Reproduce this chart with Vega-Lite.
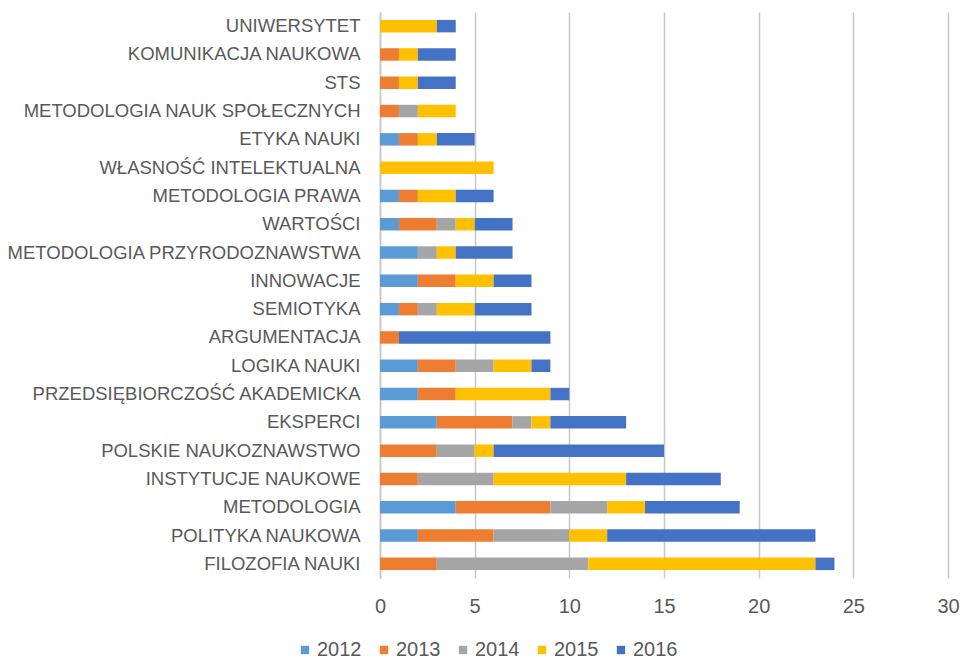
{
  "$schema": "https://vega.github.io/schema/vega-lite/v6.json",
  "width": 568,
  "height": 566,
  "autosize": {"type": "none"},
  "padding": {"left": 380, "top": 12, "right": 16, "bottom": 85},
  "background": "white",
  "config": {"view": {"stroke": null}, "font": "Liberation Sans"},
  "data": {
    "values": [
      {"topic": "UNIWERSYTET", "year": "2015", "value": 3},
      {"topic": "UNIWERSYTET", "year": "2016", "value": 1},
      {"topic": "KOMUNIKACJA NAUKOWA", "year": "2013", "value": 1},
      {"topic": "KOMUNIKACJA NAUKOWA", "year": "2015", "value": 1},
      {"topic": "KOMUNIKACJA NAUKOWA", "year": "2016", "value": 2},
      {"topic": "STS", "year": "2013", "value": 1},
      {"topic": "STS", "year": "2015", "value": 1},
      {"topic": "STS", "year": "2016", "value": 2},
      {"topic": "METODOLOGIA NAUK SPOŁECZNYCH", "year": "2013", "value": 1},
      {"topic": "METODOLOGIA NAUK SPOŁECZNYCH", "year": "2014", "value": 1},
      {"topic": "METODOLOGIA NAUK SPOŁECZNYCH", "year": "2015", "value": 2},
      {"topic": "ETYKA NAUKI", "year": "2012", "value": 1},
      {"topic": "ETYKA NAUKI", "year": "2013", "value": 1},
      {"topic": "ETYKA NAUKI", "year": "2015", "value": 1},
      {"topic": "ETYKA NAUKI", "year": "2016", "value": 2},
      {"topic": "WŁASNOŚĆ INTELEKTUALNA", "year": "2015", "value": 6},
      {"topic": "METODOLOGIA PRAWA", "year": "2012", "value": 1},
      {"topic": "METODOLOGIA PRAWA", "year": "2013", "value": 1},
      {"topic": "METODOLOGIA PRAWA", "year": "2015", "value": 2},
      {"topic": "METODOLOGIA PRAWA", "year": "2016", "value": 2},
      {"topic": "WARTOŚCI", "year": "2012", "value": 1},
      {"topic": "WARTOŚCI", "year": "2013", "value": 2},
      {"topic": "WARTOŚCI", "year": "2014", "value": 1},
      {"topic": "WARTOŚCI", "year": "2015", "value": 1},
      {"topic": "WARTOŚCI", "year": "2016", "value": 2},
      {"topic": "METODOLOGIA PRZYRODOZNAWSTWA", "year": "2012", "value": 2},
      {"topic": "METODOLOGIA PRZYRODOZNAWSTWA", "year": "2014", "value": 1},
      {"topic": "METODOLOGIA PRZYRODOZNAWSTWA", "year": "2015", "value": 1},
      {"topic": "METODOLOGIA PRZYRODOZNAWSTWA", "year": "2016", "value": 3},
      {"topic": "INNOWACJE", "year": "2012", "value": 2},
      {"topic": "INNOWACJE", "year": "2013", "value": 2},
      {"topic": "INNOWACJE", "year": "2015", "value": 2},
      {"topic": "INNOWACJE", "year": "2016", "value": 2},
      {"topic": "SEMIOTYKA", "year": "2012", "value": 1},
      {"topic": "SEMIOTYKA", "year": "2013", "value": 1},
      {"topic": "SEMIOTYKA", "year": "2014", "value": 1},
      {"topic": "SEMIOTYKA", "year": "2015", "value": 2},
      {"topic": "SEMIOTYKA", "year": "2016", "value": 3},
      {"topic": "ARGUMENTACJA", "year": "2013", "value": 1},
      {"topic": "ARGUMENTACJA", "year": "2016", "value": 8},
      {"topic": "LOGIKA NAUKI", "year": "2012", "value": 2},
      {"topic": "LOGIKA NAUKI", "year": "2013", "value": 2},
      {"topic": "LOGIKA NAUKI", "year": "2014", "value": 2},
      {"topic": "LOGIKA NAUKI", "year": "2015", "value": 2},
      {"topic": "LOGIKA NAUKI", "year": "2016", "value": 1},
      {"topic": "PRZEDSIĘBIORCZOŚĆ AKADEMICKA", "year": "2012", "value": 2},
      {"topic": "PRZEDSIĘBIORCZOŚĆ AKADEMICKA", "year": "2013", "value": 2},
      {"topic": "PRZEDSIĘBIORCZOŚĆ AKADEMICKA", "year": "2015", "value": 5},
      {"topic": "PRZEDSIĘBIORCZOŚĆ AKADEMICKA", "year": "2016", "value": 1},
      {"topic": "EKSPERCI", "year": "2012", "value": 3},
      {"topic": "EKSPERCI", "year": "2013", "value": 4},
      {"topic": "EKSPERCI", "year": "2014", "value": 1},
      {"topic": "EKSPERCI", "year": "2015", "value": 1},
      {"topic": "EKSPERCI", "year": "2016", "value": 4},
      {"topic": "POLSKIE NAUKOZNAWSTWO", "year": "2013", "value": 3},
      {"topic": "POLSKIE NAUKOZNAWSTWO", "year": "2014", "value": 2},
      {"topic": "POLSKIE NAUKOZNAWSTWO", "year": "2015", "value": 1},
      {"topic": "POLSKIE NAUKOZNAWSTWO", "year": "2016", "value": 9},
      {"topic": "INSTYTUCJE NAUKOWE", "year": "2013", "value": 2},
      {"topic": "INSTYTUCJE NAUKOWE", "year": "2014", "value": 4},
      {"topic": "INSTYTUCJE NAUKOWE", "year": "2015", "value": 7},
      {"topic": "INSTYTUCJE NAUKOWE", "year": "2016", "value": 5},
      {"topic": "METODOLOGIA", "year": "2012", "value": 4},
      {"topic": "METODOLOGIA", "year": "2013", "value": 5},
      {"topic": "METODOLOGIA", "year": "2014", "value": 3},
      {"topic": "METODOLOGIA", "year": "2015", "value": 2},
      {"topic": "METODOLOGIA", "year": "2016", "value": 5},
      {"topic": "POLITYKA NAUKOWA", "year": "2012", "value": 2},
      {"topic": "POLITYKA NAUKOWA", "year": "2013", "value": 4},
      {"topic": "POLITYKA NAUKOWA", "year": "2014", "value": 4},
      {"topic": "POLITYKA NAUKOWA", "year": "2015", "value": 2},
      {"topic": "POLITYKA NAUKOWA", "year": "2016", "value": 11},
      {"topic": "FILOZOFIA NAUKI", "year": "2013", "value": 3},
      {"topic": "FILOZOFIA NAUKI", "year": "2014", "value": 8},
      {"topic": "FILOZOFIA NAUKI", "year": "2015", "value": 12},
      {"topic": "FILOZOFIA NAUKI", "year": "2016", "value": 1}
    ]
  },
  "mark": {"type": "bar"},
  "encoding": {
    "y": {
      "field": "topic",
      "type": "nominal",
      "sort": ["UNIWERSYTET", "KOMUNIKACJA NAUKOWA", "STS", "METODOLOGIA NAUK SPOŁECZNYCH", "ETYKA NAUKI", "WŁASNOŚĆ INTELEKTUALNA", "METODOLOGIA PRAWA", "WARTOŚCI", "METODOLOGIA PRZYRODOZNAWSTWA", "INNOWACJE", "SEMIOTYKA", "ARGUMENTACJA", "LOGIKA NAUKI", "PRZEDSIĘBIORCZOŚĆ AKADEMICKA", "EKSPERCI", "POLSKIE NAUKOZNAWSTWO", "INSTYTUCJE NAUKOWE", "METODOLOGIA", "POLITYKA NAUKOWA", "FILOZOFIA NAUKI"],
      "scale": {"paddingInner": 0.56, "paddingOuter": 0.28},
      "axis": {
        "title": null,
        "labelFontSize": 18.5,
        "labelColor": "#595959",
        "labelPadding": 20,
        "labelLimit": 0,
        "ticks": false,
        "tickSize": 0,
        "domain": true,
        "domainColor": "#c8c8c8",
        "domainWidth": 1.5
      }
    },
    "x": {
      "field": "value",
      "type": "quantitative",
      "stack": "zero",
      "scale": {"domain": [0, 30], "nice": false},
      "axis": {
        "title": null,
        "values": [0, 5, 10, 15, 20, 25, 30],
        "grid": true,
        "gridColor": "#c8c8c8",
        "gridWidth": 1.5,
        "domain": false,
        "ticks": false,
        "tickSize": 0,
        "labelFontSize": 20,
        "labelColor": "#595959",
        "labelPadding": 18,
        "labelFlush": false
      }
    },
    "color": {
      "field": "year",
      "type": "nominal",
      "scale": {
        "domain": ["2012", "2013", "2014", "2015", "2016"],
        "range": ["#5B9BD5", "#ED7D31", "#A5A5A5", "#FFC000", "#4472C4"]
      },
      "legend": {
        "title": null,
        "orient": "none",
        "direction": "horizontal",
        "legendX": -85,
        "legendY": 628,
        "padding": 0,
        "symbolType": "square",
        "symbolSize": 70,
        "symbolStrokeWidth": 0,
        "labelFontSize": 20,
        "labelColor": "#595959",
        "labelOffset": 2,
        "columnPadding": 12
      }
    },
    "order": {"field": "year", "type": "ordinal"}
  }
}
